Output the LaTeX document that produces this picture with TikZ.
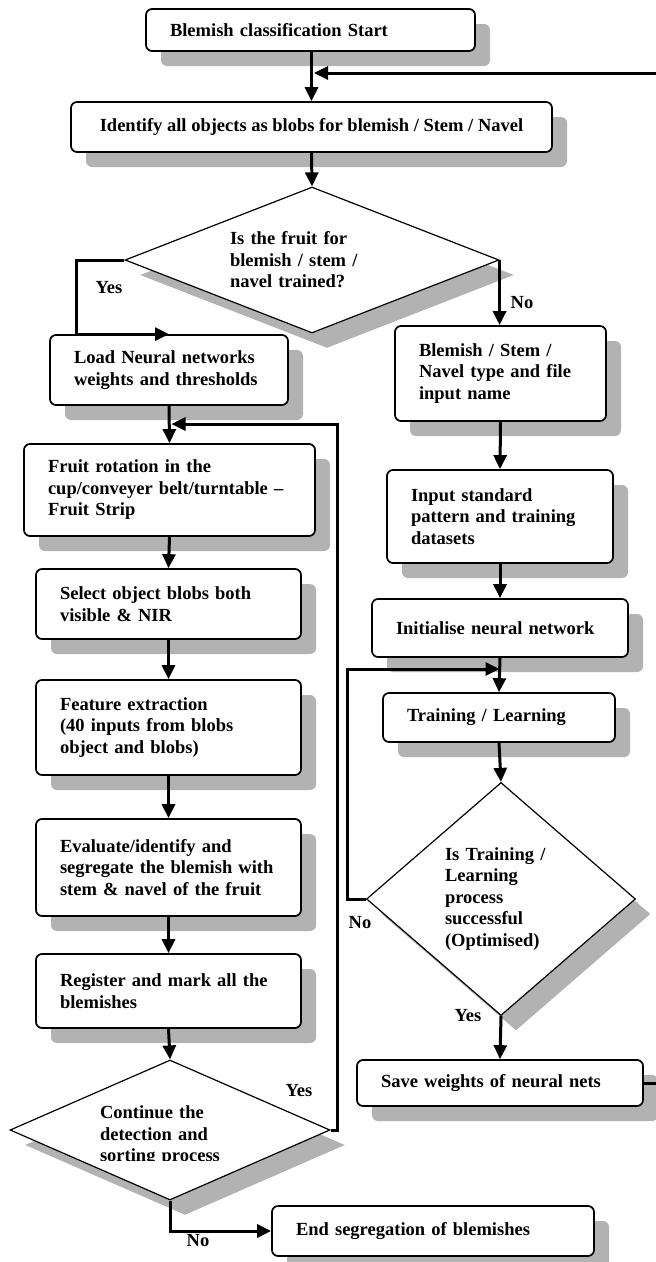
\documentclass[tikz,border=0pt]{standalone}
\usepackage{fontspec}
\setmainfont{Liberation Serif}
\usetikzlibrary{arrows.meta,shapes.geometric,shadows}

\definecolor{shadowgrey}{gray}{0.7}

\tikzset{
  every node/.style={font=\bfseries\fontsize{18.5}{21.5}\selectfont},
  procbox/.style={draw, line width=1.7pt, rounded corners=6pt, fill=white,
    align=left, inner xsep=24pt, inner ysep=0pt,
    drop shadow={shadow xshift=15pt, shadow yshift=-15pt, fill=shadowgrey, opacity=1}},
  decision/.style={diamond, draw, line width=1.2pt, fill=white, inner sep=0pt,
    align=left,
    drop shadow={shadow xshift=15pt, shadow yshift=-15pt, fill=shadowgrey, opacity=1}},
  flow/.style={line width=3pt, -{Triangle[length=14pt,width=13pt]}},
  link/.style={line width=3pt},
  lbl/.style={inner sep=0pt}
}

\begin{document}
\begin{tikzpicture}[x=1pt,y=-1pt]
      \useasboundingbox (0,0) rectangle (656,1262);

      % Start
      \node[procbox, text width=281pt, minimum height=42pt] (start) at (310.5,30) {Blemish classification Start};
      \node[procbox, align=center, minimum width=481pt, minimum height=50pt] (ident) at (311.5,127) {Identify all objects as blobs for blemish / Stem / Navel};
      \node[decision, text width=164pt, minimum width=374pt, minimum height=146pt, aspect=2.56] (q1) at (312,260) {Is the fruit for\\blemish / stem /\\navel trained?};

      % Left column: detection
      \node[procbox, text width=190pt, minimum height=70pt] (load) at (169,370) {Load Neural networks\\weights and thresholds};
      \node[procbox, text width=243pt, minimum height=92pt] (fruit) at (169.5,490) {Fruit rotation in the\\cup/conveyer belt/turntable –\\Fruit Strip};
      \node[procbox, text width=217pt, minimum height=70pt] (select) at (168.5,604) {Select object blobs both\\visible \& NIR};
      \node[procbox, text width=217pt, minimum height=95pt] (feature) at (168.5,727.5) {Feature extraction\\(40 inputs from blobs\\object and blobs)};
      \node[procbox, text width=217pt, minimum height=97pt] (evaluate) at (168.5,867.5) {Evaluate/identify and\\segregate the blemish with\\stem \& navel of the fruit};
      \node[procbox, text width=217pt, minimum height=74pt] (register) at (168.5,991) {Register and mark all the\\blemishes};
      \node[decision, minimum width=320pt, minimum height=140pt] (cont) at (170,1130) {};
      \begin{scope}
        \clip (0,1040) rectangle (345,1160);
        \node[lbl, text width=140pt, align=left] (contText) at (170,1136) {Continue the\\detection and\\sorting process};
      \end{scope}
      \node[procbox, text width=274pt, minimum height=50pt] (end) at (433,1231) {End segregation of blemishes};

      % Right column: training
      \node[procbox, text width=163pt, minimum height=95pt] (bsn) at (500.5,373.5) {Blemish / Stem /\\Navel type and file\\input name};
      \node[procbox, text width=178pt, minimum height=93pt] (inp) at (500,516.5) {Input standard\\pattern and training\\datasets};
      \node[procbox, text width=208pt, minimum height=58pt] (init) at (500,628) {Initialise neural network};
      \node[procbox, text width=184pt, minimum height=49pt] (train) at (499,717.5) {Training / Learning};
      \node[decision, text width=112pt, minimum width=269pt, minimum height=233pt, aspect=1.15] (q3) at (501,899) {Is Training /\\Learning\\process\\successful\\(Optimised)};
      \node[procbox, text width=238pt, minimum height=46pt] (save) at (500,1083) {Save weights of neural nets};

      % Labels
      \node[lbl] (yes1) at (109,288) {Yes};
      \node[lbl] (no1) at (522,303) {No};
      \node[lbl] (no2) at (360,923) {No};
      \node[lbl] (yes2) at (468,1016) {Yes};
      \node[lbl] (yes3) at (299,1091) {Yes};
      \node[lbl] (no3) at (198,1241) {No};

      % Joins
      \coordinate (topR) at (656,73);
      \coordinate (topJoin) at (314,73);
      \coordinate (saveR) at (656,1083);
      \coordinate (loopR) at (337,424);
      \coordinate (loopJoin) at (171.5,424);
      \coordinate (trainJoin) at (499.5,669);

      % Connectors
      \draw[flow] (ident.north |- start.south) -- (ident.north);
      \draw[flow] (topR) -- (topJoin);
      \draw[flow] (ident.south) -- (q1.north);
      \draw[flow] (q1.west) -- ++(-48,0) |- (load.north);
      \draw[flow] (q1.east) -- (q1.east |- bsn.north);
      \draw[flow] (load.south) -- (fruit.north);
      \draw[flow] (fruit.south) -- (select.north);
      \draw[flow] (select.south) -- (feature.north);
      \draw[flow] (feature.south) -- (evaluate.north);
      \draw[flow] (evaluate.south) -- (register.north);
      \draw[flow] (register.south) -- (cont.north);
      \draw[flow] (cont.east) -| (loopR) -- (loopJoin);
      \draw[flow] (cont.south) |- (end.west);
      \draw[flow] (bsn.south) -- (inp.north);
      \draw[flow] (inp.south) -- (init.north);
      \draw[flow] (init.south) -- (train.north);
      \draw[flow] (q3.west) -- ++(-18,0) |- (trainJoin);
      \draw[flow] (train.south) -- (q3.north);
      \draw[flow] (q3.south) -- (save.north);
      \draw[link] (save.east) -- (saveR);
\end{tikzpicture}
\end{document}
